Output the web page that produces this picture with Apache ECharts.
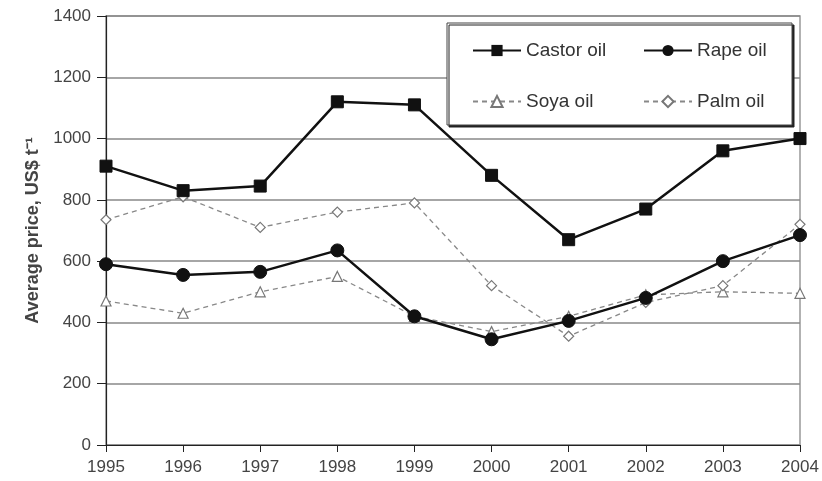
<!DOCTYPE html>
<html><head><meta charset="utf-8">
<script src="https://cdn.jsdelivr.net/npm/echarts@6/dist/echarts.min.js"></script>
<style>html,body{margin:0;padding:0;background:#fff}#c{width:822px;height:481px}</style>
</head><body><div id="c"></div>
<script>
var years = ['1995','1996','1997','1998','1999','2000','2001','2002','2003','2004'];
var castor = [910, 830, 845, 1120, 1110, 880, 670, 770, 960, 1000];
var rape = [590, 555, 565, 635, 420, 345, 405, 480, 600, 685];
var soya = [470, 430, 500, 550, 420, 370, 420, 490, 500, 495];
var palm = [735, 810, 710, 760, 790, 520, 355, 465, 520, 720];
var yTicks = [0, 200, 400, 600, 800, 1000, 1200, 1400];

var chart = echarts.init(document.getElementById('c'));
var font = 'Liberation Sans, Arial, sans-serif';
var legendText = {fontFamily: font, fontSize: 19, color: '#333'};
chart.setOption({
  animation: false,
  grid: {left: 106, right: 22, top: 16, bottom: 36, show: true, borderColor: '#999', borderWidth: 1.5},
  graphic: [{
    type: 'rect', z: 5,
    shape: {x: 447, y: 23, width: 345, height: 102},
    style: {fill: '#fff', stroke: '#444', lineWidth: 1, shadowColor: '#222', shadowOffsetX: 2, shadowOffsetY: 2, shadowBlur: 0}
  }],
  legend: [
    {data: ['Castor oil', 'Soya oil'], orient: 'vertical', left: 467, top: 36, itemWidth: 48, itemHeight: 14, itemGap: 32, textStyle: legendText, z: 10},
    {data: ['Rape oil', 'Palm oil'], orient: 'vertical', left: 638, top: 36, itemWidth: 48, itemHeight: 14, itemGap: 32, textStyle: legendText, z: 10}
  ],
  xAxis: {
    type: 'category', data: years, boundaryGap: false,
    axisLine: {lineStyle: {color: '#222', width: 1.2}},
    axisTick: {show: true, length: 7, lineStyle: {color: '#222'}},
    axisLabel: {fontFamily: font, fontSize: 17, color: '#444', margin: 14},
    splitLine: {show: false}
  },
  yAxis: {
    type: 'value', min: yTicks[0], max: yTicks[yTicks.length - 1], interval: 200,
    name: 'Average price, US$ t\u207B\u00B9', nameLocation: 'middle', nameGap: 64,
    nameTextStyle: {fontFamily: font, fontSize: 18, fontWeight: 'bold', color: '#444'},
    axisLine: {show: true, lineStyle: {color: '#222', width: 1.2}},
    axisTick: {show: true, length: 9, lineStyle: {color: '#222'}},
    axisLabel: {fontFamily: font, fontSize: 17, color: '#444', margin: 15, formatter: function (v) { return String(v); }},
    splitLine: {lineStyle: {color: '#888', width: 1.5}}
  },
  series: [
    {name: 'Castor oil', type: 'line', data: castor, symbol: 'rect', symbolSize: 12,
     lineStyle: {color: '#111', width: 2.5}, itemStyle: {color: '#111', borderColor: '#111'}, z: 4},
    {name: 'Rape oil', type: 'line', data: rape, symbol: 'circle', symbolSize: 13,
     lineStyle: {color: '#111', width: 2.5}, itemStyle: {color: '#111', borderColor: '#111'}, z: 4},
    {name: 'Soya oil', type: 'line', data: soya, symbol: 'triangle', symbolSize: 10, showAllSymbol: true,
     lineStyle: {color: '#888', width: 1.3, type: [5, 4]}, itemStyle: {color: '#fff', borderColor: '#777', borderWidth: 1.2}, z: 3},
    {name: 'Palm oil', type: 'line', data: palm, symbol: 'diamond', symbolSize: 10, showAllSymbol: true,
     lineStyle: {color: '#888', width: 1.3, type: [5, 4]}, itemStyle: {color: '#fff', borderColor: '#777', borderWidth: 1.2}, z: 3}
  ]
});
</script></body></html>
